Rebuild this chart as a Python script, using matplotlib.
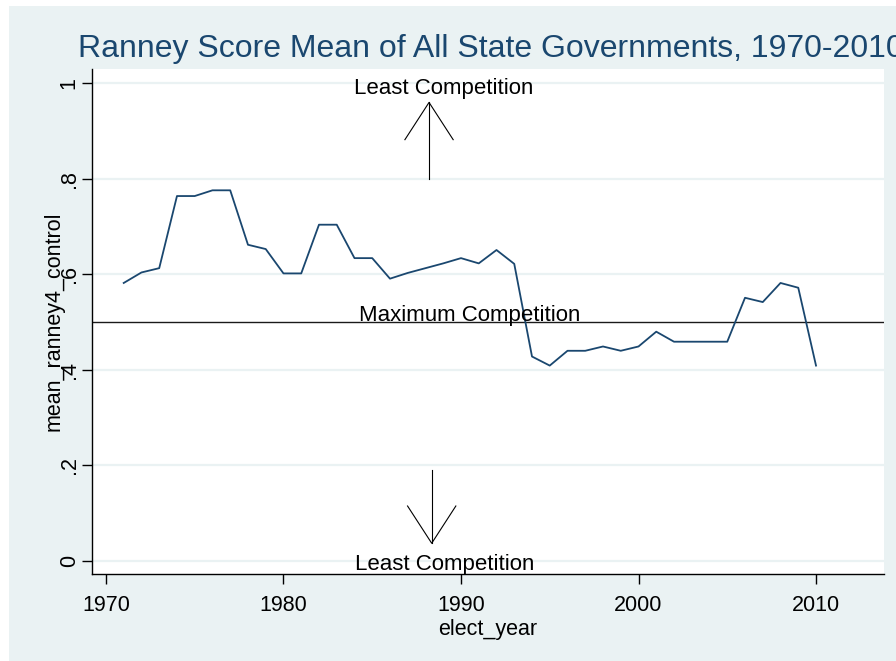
"""Stata-style line chart: mean Ranney score of all state governments, 1970-2010."""

import matplotlib

matplotlib.use("Agg")
import matplotlib.pyplot as plt  # noqa: E402
from matplotlib.patches import Rectangle  # noqa: E402

# --- data ---
years = list(range(1971, 2011))
ranney = [
    0.582, 0.604, 0.613, 0.764, 0.764, 0.776, 0.776, 0.662, 0.653, 0.602,
    0.602, 0.704, 0.704, 0.634, 0.634, 0.591, 0.603, 0.613, 0.623, 0.634,
    0.623, 0.651, 0.622, 0.428, 0.409, 0.440, 0.440, 0.449, 0.440, 0.449,
    0.480, 0.459, 0.459, 0.459, 0.459, 0.551, 0.542, 0.582, 0.572, 0.409,
]
x_ticks = [1970, 1980, 1990, 2000, 2010]
y_ticks = [0, 0.2, 0.4, 0.6, 0.8, 1.0]
y_tick_labels = ["0", ".2", ".4", ".6", ".8", "1"]

title = "Ranney Score Mean of All State Governments, 1970-2010"
x_label = "elect_year"
y_label = "mean_ranney4_control"
top_note = "Least Competition"
mid_note = "Maximum Competition"
bottom_note = "Least Competition"
mid_level = 0.5

# arrows: (x, tail y, tip y)
arrow_up = (1988.2, 0.80, 0.96)
arrow_down = (1988.35, 0.19, 0.037)

# Stata s2color palette
_BG = "#EAF2F3"
_NAVY = "#1A476F"
_FONT = ["Liberation Sans", "DejaVu Sans"]

plt.rcParams["font.family"] = _FONT

fig = plt.figure(figsize=(8.96, 6.61), dpi=100, facecolor="white")
# light outer graph region (the reference has a thin white strip top/left)
fig.patches.append(Rectangle((9 / 896, 0), 1, 1 - 6 / 661, transform=fig.transFigure,
                             facecolor=_BG, edgecolor="none", zorder=-10))

ax = fig.add_axes([92.3 / 896, 1 - 574.3 / 661, (884 - 92.3) / 896, (574.3 - 69) / 661])
ax.set_facecolor("white")

ax.plot(years, ranney, color=_NAVY, lw=1.3, zorder=3)
ax.axhline(mid_level, color="#1a1a1a", lw=1.0, zorder=2)


def _arrow(x, y0, y1, head_len=0.078, head_half=1.36):
    """open V arrow drawn as plain lines, like Stata's pcarrow"""
    sign = 1 if y1 > y0 else -1
    ax.plot([x, x], [y0, y1], color="black", lw=0.8, zorder=3)
    yh = y1 - sign * head_len
    ax.plot([x - head_half, x, x + head_half], [yh, y1, yh], color="black", lw=0.8, zorder=3)


_arrow(*arrow_up)
_arrow(*arrow_down)

ax.text(1989.05, 1.0 - 0.022, top_note, ha="center", va="baseline", fontsize=16)
ax.text(1990.5, 0.503, mid_note, ha="center", va="baseline", fontsize=16)
ax.text(1989.1, 0.0 - 0.019, bottom_note, ha="center", va="baseline", fontsize=16)

ax.set_xlim(1969.23, 2013.83)
ax.set_ylim(-0.028, 1.030)
ax.set_xticks(x_ticks)
ax.set_yticks(y_ticks)
ax.set_yticklabels(y_tick_labels, rotation=90, va="center")

ax.yaxis.grid(True, color=_BG, lw=1.6)
ax.set_axisbelow(True)

for side in ("top", "right"):
    ax.spines[side].set_visible(False)
for side in ("left", "bottom"):
    ax.spines[side].set_linewidth(1.0)
ax.tick_params(axis="both", direction="out", length=7, width=1.0, labelsize=15.5, colors="black")
ax.tick_params(axis="x", pad=8)
ax.tick_params(axis="y", pad=2)

ax.set_xlabel(x_label, fontsize=15.5, labelpad=2)
ax.set_ylabel(y_label, fontsize=15.5)
# Stata squeezes the axis title onto the tick labels; keep that overlap
ax.yaxis.set_label_coords(-28 / (884 - 92.3), 0.5)

fig.text(78 / 896, 1 - 57 / 661, title, ha="left", va="baseline", fontsize=23, color=_NAVY)

fig.savefig("out.png", dpi=100, facecolor=fig.get_facecolor())
